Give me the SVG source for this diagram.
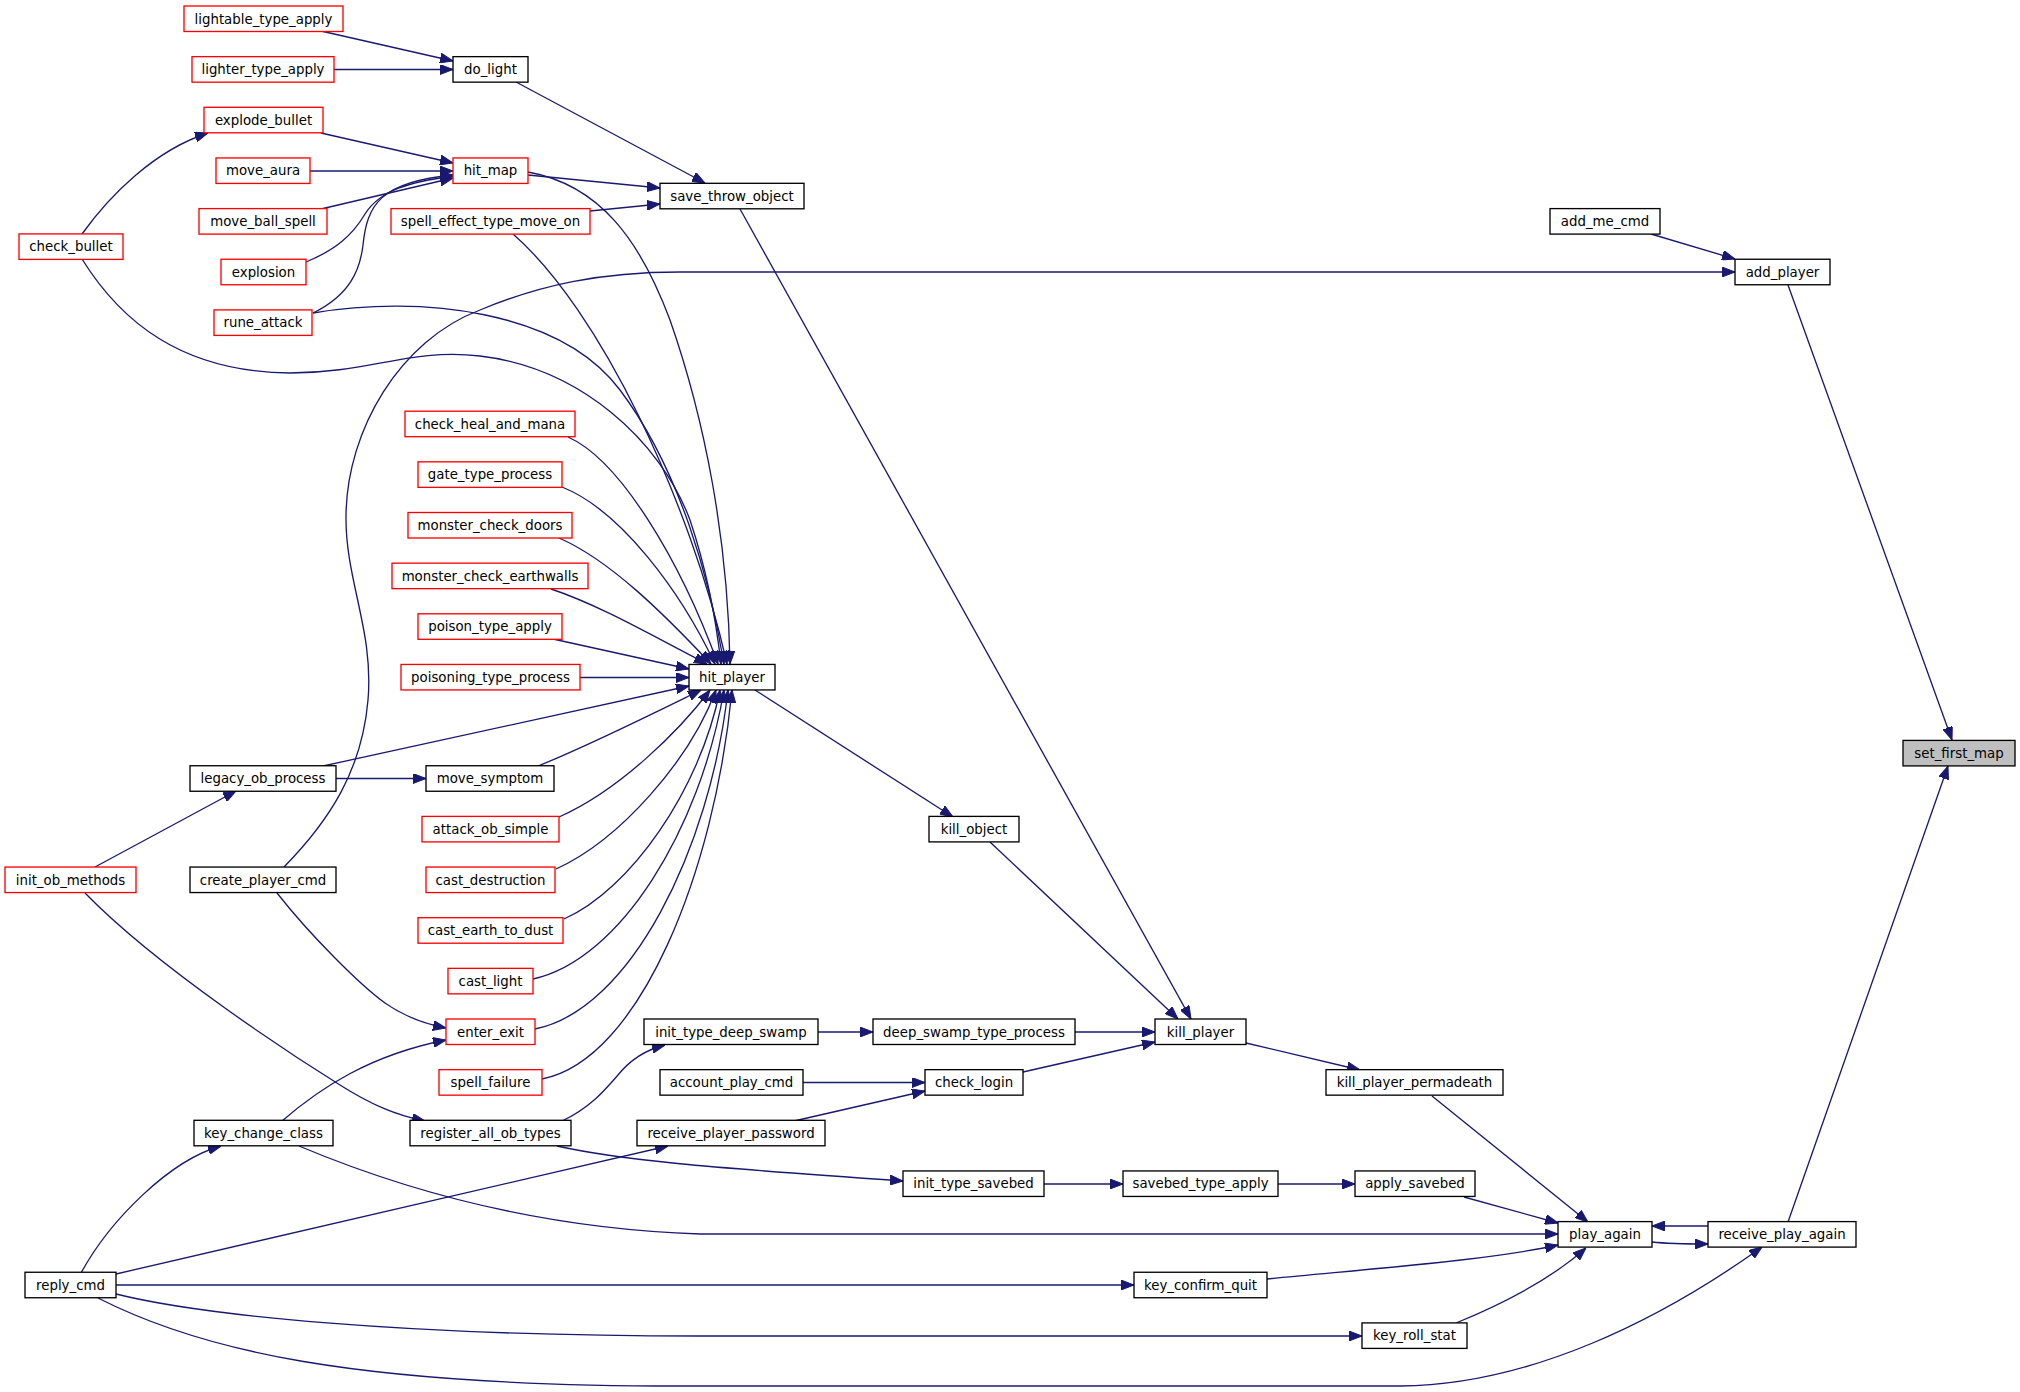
<svg xmlns="http://www.w3.org/2000/svg" width="2020" height="1392" viewBox="0 0 2020 1392">
<style>
.n rect{fill:#ffffff;stroke:#000000;stroke-width:1.33}
.n.r rect{stroke:#ff0000}
.n.g rect{fill:#bfbfbf}
.n text{font-family:"DejaVu Sans","Liberation Sans",sans-serif;font-size:13.33px;fill:#000000;text-anchor:middle}
.e path{fill:none;stroke:#191970;stroke-width:1.33;marker-end:url(#ah)}
</style>
<defs>
<marker id="ah" markerUnits="userSpaceOnUse" viewBox="0 0 13 10" refX="13" refY="5" markerWidth="13" markerHeight="10" orient="auto">
<path d="M0,0 L13,5 L0,10 Z" fill="#191970" stroke="#191970" stroke-width="1"/>
</marker>
</defs>
<rect x="0" y="0" width="2020" height="1392" fill="#ffffff"/>
<g id="edges" class="e">
<path d="M321,31 L453,61"/>
<path d="M334,69.5 L453,69.5"/>
<path d="M516,82 L705,183"/>
<path d="M321,133 L453,163"/>
<path d="M310,171 L453,171"/>
<path d="M321,209 L453,178"/>
<path d="M306,262 C335,250 352,236 365,214 C380,190 410,182 453,176"/>
<path d="M313,313 C350,295 360,270 363,245 C367,205 380,182 453,175"/>
<path d="M82,234 C110,195 155,150 208,133"/>
<path d="M528,175 L660,188"/>
<path d="M590,211 L660,204"/>
<path d="M528,172 C600,185 640,240 670,320 C705,420 728,540 730,664"/>
<path d="M513,234 C600,310 690,500 727,664"/>
<path d="M313,313 C420,295 560,310 620,390 C680,470 710,580 724,664"/>
<path d="M82,259 C120,320 180,372 290,373 C370,373 410,348 480,356 C580,368 660,440 690,520 C705,565 715,610 721,664"/>
<path d="M568,437 C620,460 680,560 718,664"/>
<path d="M562,487 C620,510 680,590 715,664"/>
<path d="M559,538 C610,560 665,615 711,664"/>
<path d="M551,589 C600,605 660,640 707,664"/>
<path d="M553,639 L689,669"/>
<path d="M580,677.5 L689,677.5"/>
<path d="M323,766 L689,686"/>
<path d="M538,766 C590,745 650,715 701,690"/>
<path d="M559,817 C620,790 680,730 710,690"/>
<path d="M556,869 C620,840 690,760 716,690"/>
<path d="M564,919 C630,890 700,790 720,690"/>
<path d="M533,979 C620,960 700,830 724,690"/>
<path d="M535,1029 C630,1010 710,850 728,690"/>
<path d="M542,1079 C640,1060 715,870 732,690"/>
<path d="M336,778.5 L426,778.5"/>
<path d="M95,867 L236,791"/>
<path d="M85,893 C160,970 300,1060 340,1085 C370,1104 395,1115 425,1121"/>
<path d="M277,893 C310,935 360,985 385,1003 C405,1017 425,1024 446,1028"/>
<path d="M282,1121 C320,1088 370,1055 446,1040"/>
<path d="M284,867 C330,820 362,770 368,700 C374,630 345,580 346,515 C347,430 400,340 480,310 C540,285 600,272 680,272 L1735,272"/>
<path d="M299,1146 C380,1180 520,1228 700,1234 L1558,1234"/>
<path d="M81,1273 C110,1220 170,1160 221,1146"/>
<path d="M116,1274 L668,1146"/>
<path d="M116,1285 L1134,1285"/>
<path d="M116,1294 C200,1315 400,1336 700,1336 L1362,1336"/>
<path d="M98,1298 C200,1350 350,1386 680,1386 L1400,1386 C1530,1385 1660,1320 1762,1247"/>
<path d="M562,1121 C590,1108 605,1090 618,1075 C630,1060 645,1050 665,1045"/>
<path d="M557,1146 C620,1160 700,1167 903,1181"/>
<path d="M818,1032 L873,1032"/>
<path d="M1075,1032 L1155,1032"/>
<path d="M803,1082.5 L925,1082.5"/>
<path d="M794,1121 L925,1091"/>
<path d="M1023,1072 L1155,1042"/>
<path d="M755,690 L953,817"/>
<path d="M990,842 L1178,1019"/>
<path d="M740,209 L1191,1019"/>
<path d="M1246,1043 L1360,1070"/>
<path d="M1432,1096 L1588,1222"/>
<path d="M1044,1184 L1123,1184"/>
<path d="M1278,1184 L1355,1184"/>
<path d="M1464,1197 L1558,1223"/>
<path d="M1267,1279 C1380,1268 1490,1260 1558,1245"/>
<path d="M1456,1323 C1500,1305 1550,1280 1586,1248"/>
<path d="M1652,1242 C1670,1244 1690,1244 1708,1244"/>
<path d="M1708,1226 C1690,1226 1670,1226 1652,1226"/>
<path d="M1788,1222 L1948,766"/>
<path d="M1788,285 L1952,740"/>
<path d="M1651,234 L1735,259"/>
</g>
<g id="node-lightable_type_apply" class="n r"><rect x="184" y="6" width="159" height="25.5"/><text x="263.5" y="23.5">lightable_type_apply</text></g>
<g id="node-lighter_type_apply" class="n r"><rect x="192" y="56.65" width="142" height="25.5"/><text x="263" y="74.15">lighter_type_apply</text></g>
<g id="node-do_light" class="n"><rect x="453" y="56.65" width="75" height="25.5"/><text x="490.5" y="74.15">do_light</text></g>
<g id="node-explode_bullet" class="n r"><rect x="204" y="107.3" width="119" height="25.5"/><text x="263.5" y="124.8">explode_bullet</text></g>
<g id="node-hit_map" class="n r"><rect x="453" y="157.95" width="75" height="25.5"/><text x="490.5" y="175.45">hit_map</text></g>
<g id="node-move_aura" class="n r"><rect x="216" y="157.95" width="94" height="25.5"/><text x="263" y="175.45">move_aura</text></g>
<g id="node-save_throw_object" class="n"><rect x="660" y="183.3" width="144" height="25.5"/><text x="732" y="200.8">save_throw_object</text></g>
<g id="node-move_ball_spell" class="n r"><rect x="199" y="208.6" width="128" height="25.5"/><text x="263" y="226.1">move_ball_spell</text></g>
<g id="node-spell_effect_type_move_on" class="n r"><rect x="391" y="208.6" width="199" height="25.5"/><text x="490.5" y="226.1">spell_effect_type_move_on</text></g>
<g id="node-add_me_cmd" class="n"><rect x="1550" y="208.6" width="110" height="25.5"/><text x="1605" y="226.1">add_me_cmd</text></g>
<g id="node-check_bullet" class="n r"><rect x="19" y="233.9" width="104" height="25.5"/><text x="71" y="251.4">check_bullet</text></g>
<g id="node-explosion" class="n r"><rect x="221" y="259.25" width="85" height="25.5"/><text x="263.5" y="276.75">explosion</text></g>
<g id="node-add_player" class="n"><rect x="1735" y="259.25" width="95" height="25.5"/><text x="1782.5" y="276.75">add_player</text></g>
<g id="node-rune_attack" class="n r"><rect x="214" y="309.9" width="98" height="25.5"/><text x="263" y="327.4">rune_attack</text></g>
<g id="node-check_heal_and_mana" class="n r"><rect x="405" y="411.2" width="170" height="25.5"/><text x="490" y="428.7">check_heal_and_mana</text></g>
<g id="node-gate_type_process" class="n r"><rect x="418" y="461.85" width="144" height="25.5"/><text x="490" y="479.35">gate_type_process</text></g>
<g id="node-monster_check_doors" class="n r"><rect x="408" y="512.5" width="164" height="25.5"/><text x="490" y="530">monster_check_doors</text></g>
<g id="node-monster_check_earthwalls" class="n r"><rect x="392" y="563.15" width="196" height="25.5"/><text x="490" y="580.65">monster_check_earthwalls</text></g>
<g id="node-poison_type_apply" class="n r"><rect x="418" y="613.8" width="144" height="25.5"/><text x="490" y="631.3">poison_type_apply</text></g>
<g id="node-poisoning_type_process" class="n r"><rect x="401" y="664.45" width="179" height="25.5"/><text x="490.5" y="681.95">poisoning_type_process</text></g>
<g id="node-hit_player" class="n"><rect x="689" y="664.45" width="86" height="25.5"/><text x="732" y="681.95">hit_player</text></g>
<g id="node-set_first_map" class="n g"><rect x="1903" y="740.4" width="112" height="25.5"/><text x="1959" y="757.9">set_first_map</text></g>
<g id="node-legacy_ob_process" class="n"><rect x="190" y="765.75" width="146" height="25.5"/><text x="263" y="783.25">legacy_ob_process</text></g>
<g id="node-move_symptom" class="n"><rect x="426" y="765.75" width="128" height="25.5"/><text x="490" y="783.25">move_symptom</text></g>
<g id="node-attack_ob_simple" class="n r"><rect x="422" y="816.4" width="137" height="25.5"/><text x="490.5" y="833.9">attack_ob_simple</text></g>
<g id="node-kill_object" class="n"><rect x="929" y="816.4" width="90" height="25.5"/><text x="974" y="833.9">kill_object</text></g>
<g id="node-init_ob_methods" class="n r"><rect x="5" y="867.05" width="131" height="25.5"/><text x="70.5" y="884.55">init_ob_methods</text></g>
<g id="node-create_player_cmd" class="n"><rect x="190" y="867.05" width="146" height="25.5"/><text x="263" y="884.55">create_player_cmd</text></g>
<g id="node-cast_destruction" class="n r"><rect x="426" y="867.05" width="129" height="25.5"/><text x="490.5" y="884.55">cast_destruction</text></g>
<g id="node-cast_earth_to_dust" class="n r"><rect x="418" y="917.7" width="145" height="25.5"/><text x="490.5" y="935.2">cast_earth_to_dust</text></g>
<g id="node-cast_light" class="n r"><rect x="448" y="968.35" width="85" height="25.5"/><text x="490.5" y="985.85">cast_light</text></g>
<g id="node-enter_exit" class="n r"><rect x="446" y="1019" width="89" height="25.5"/><text x="490.5" y="1036.5">enter_exit</text></g>
<g id="node-init_type_deep_swamp" class="n"><rect x="644" y="1019" width="174" height="25.5"/><text x="731" y="1036.5">init_type_deep_swamp</text></g>
<g id="node-deep_swamp_type_process" class="n"><rect x="873" y="1019" width="202" height="25.5"/><text x="974" y="1036.5">deep_swamp_type_process</text></g>
<g id="node-kill_player" class="n"><rect x="1155" y="1019" width="91" height="25.5"/><text x="1200.5" y="1036.5">kill_player</text></g>
<g id="node-spell_failure" class="n r"><rect x="439" y="1069.65" width="103" height="25.5"/><text x="490.5" y="1087.15">spell_failure</text></g>
<g id="node-account_play_cmd" class="n"><rect x="660" y="1069.65" width="143" height="25.5"/><text x="731.5" y="1087.15">account_play_cmd</text></g>
<g id="node-check_login" class="n"><rect x="925" y="1069.65" width="98" height="25.5"/><text x="974" y="1087.15">check_login</text></g>
<g id="node-kill_player_permadeath" class="n"><rect x="1326" y="1069.65" width="177" height="25.5"/><text x="1414.5" y="1087.15">kill_player_permadeath</text></g>
<g id="node-key_change_class" class="n"><rect x="194" y="1120.3" width="139" height="25.5"/><text x="263.5" y="1137.8">key_change_class</text></g>
<g id="node-register_all_ob_types" class="n"><rect x="410" y="1120.3" width="161" height="25.5"/><text x="490.5" y="1137.8">register_all_ob_types</text></g>
<g id="node-receive_player_password" class="n"><rect x="637" y="1120.3" width="188" height="25.5"/><text x="731" y="1137.8">receive_player_password</text></g>
<g id="node-init_type_savebed" class="n"><rect x="903" y="1170.95" width="141" height="25.5"/><text x="973.5" y="1188.45">init_type_savebed</text></g>
<g id="node-savebed_type_apply" class="n"><rect x="1123" y="1170.95" width="155" height="25.5"/><text x="1200.5" y="1188.45">savebed_type_apply</text></g>
<g id="node-apply_savebed" class="n"><rect x="1355" y="1170.95" width="120" height="25.5"/><text x="1415" y="1188.45">apply_savebed</text></g>
<g id="node-play_again" class="n"><rect x="1558" y="1221.6" width="94" height="25.5"/><text x="1605" y="1239.1">play_again</text></g>
<g id="node-receive_play_again" class="n"><rect x="1708" y="1221.6" width="148" height="25.5"/><text x="1782" y="1239.1">receive_play_again</text></g>
<g id="node-reply_cmd" class="n"><rect x="25" y="1272.25" width="91" height="25.5"/><text x="70.5" y="1289.75">reply_cmd</text></g>
<g id="node-key_confirm_quit" class="n"><rect x="1134" y="1272.25" width="133" height="25.5"/><text x="1200.5" y="1289.75">key_confirm_quit</text></g>
<g id="node-key_roll_stat" class="n"><rect x="1362" y="1322.9" width="105" height="25.5"/><text x="1414.5" y="1340.4">key_roll_stat</text></g>
</svg>
